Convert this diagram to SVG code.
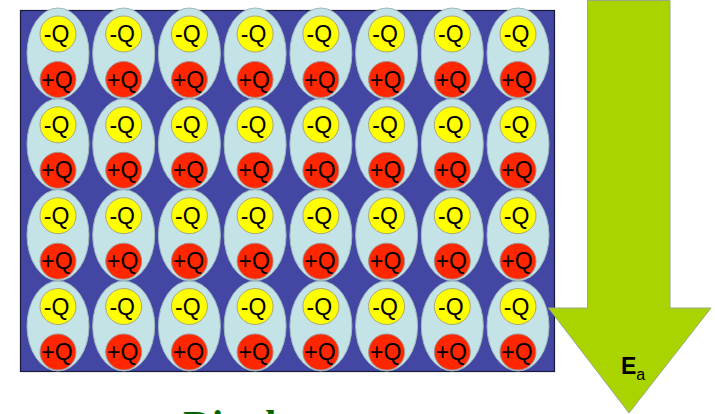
<svg xmlns="http://www.w3.org/2000/svg" width="715" height="414" viewBox="0 0 715 414">
<style>
.cell{fill:#C3E3E7;stroke:#9FB9BE;stroke-width:1}
.neg{fill:#FFFF00;stroke:#A8A878;stroke-width:1}
.pos{fill:#FF2600;stroke:#A89090;stroke-width:1}
.q{font-family:"Liberation Sans",Arial,sans-serif;font-size:23px;fill:#000;text-anchor:middle}
</style>
<rect x="20.5" y="10.5" width="534" height="361" fill="#4446A4" stroke="#1a1a3a" stroke-width="1.2"/>
<g id="dipoles">
<g id="d-1-1" transform="translate(58,53.5)"><ellipse class="cell" rx="31" ry="45.5"/><circle class="neg" cy="-19.5" r="18"/><circle class="pos" cy="26" r="18"/><text class="q" x="-1.5" y="-11.5">-Q</text><text class="q" x="-1" y="34">+Q</text></g>
<g id="d-1-2" transform="translate(123.7,53.5)"><ellipse class="cell" rx="31" ry="45.5"/><circle class="neg" cy="-19.5" r="18"/><circle class="pos" cy="26" r="18"/><text class="q" x="-1.5" y="-11.5">-Q</text><text class="q" x="-1" y="34">+Q</text></g>
<g id="d-1-3" transform="translate(189.4,53.5)"><ellipse class="cell" rx="31" ry="45.5"/><circle class="neg" cy="-19.5" r="18"/><circle class="pos" cy="26" r="18"/><text class="q" x="-1.5" y="-11.5">-Q</text><text class="q" x="-1" y="34">+Q</text></g>
<g id="d-1-4" transform="translate(255.1,53.5)"><ellipse class="cell" rx="31" ry="45.5"/><circle class="neg" cy="-19.5" r="18"/><circle class="pos" cy="26" r="18"/><text class="q" x="-1.5" y="-11.5">-Q</text><text class="q" x="-1" y="34">+Q</text></g>
<g id="d-1-5" transform="translate(320.9,53.5)"><ellipse class="cell" rx="31" ry="45.5"/><circle class="neg" cy="-19.5" r="18"/><circle class="pos" cy="26" r="18"/><text class="q" x="-1.5" y="-11.5">-Q</text><text class="q" x="-1" y="34">+Q</text></g>
<g id="d-1-6" transform="translate(386.6,53.5)"><ellipse class="cell" rx="31" ry="45.5"/><circle class="neg" cy="-19.5" r="18"/><circle class="pos" cy="26" r="18"/><text class="q" x="-1.5" y="-11.5">-Q</text><text class="q" x="-1" y="34">+Q</text></g>
<g id="d-1-7" transform="translate(452.3,53.5)"><ellipse class="cell" rx="31" ry="45.5"/><circle class="neg" cy="-19.5" r="18"/><circle class="pos" cy="26" r="18"/><text class="q" x="-1.5" y="-11.5">-Q</text><text class="q" x="-1" y="34">+Q</text></g>
<g id="d-1-8" transform="translate(518,53.5)"><ellipse class="cell" rx="31" ry="45.5"/><circle class="neg" cy="-19.5" r="18"/><circle class="pos" cy="26" r="18"/><text class="q" x="-1.5" y="-11.5">-Q</text><text class="q" x="-1" y="34">+Q</text></g>

<g id="d-2-1" transform="translate(58,144.3)"><ellipse class="cell" rx="31" ry="45.5"/><circle class="neg" cy="-19.5" r="18"/><circle class="pos" cy="26" r="18"/><text class="q" x="-1.5" y="-11.5">-Q</text><text class="q" x="-1" y="34">+Q</text></g>
<g id="d-2-2" transform="translate(123.7,144.3)"><ellipse class="cell" rx="31" ry="45.5"/><circle class="neg" cy="-19.5" r="18"/><circle class="pos" cy="26" r="18"/><text class="q" x="-1.5" y="-11.5">-Q</text><text class="q" x="-1" y="34">+Q</text></g>
<g id="d-2-3" transform="translate(189.4,144.3)"><ellipse class="cell" rx="31" ry="45.5"/><circle class="neg" cy="-19.5" r="18"/><circle class="pos" cy="26" r="18"/><text class="q" x="-1.5" y="-11.5">-Q</text><text class="q" x="-1" y="34">+Q</text></g>
<g id="d-2-4" transform="translate(255.1,144.3)"><ellipse class="cell" rx="31" ry="45.5"/><circle class="neg" cy="-19.5" r="18"/><circle class="pos" cy="26" r="18"/><text class="q" x="-1.5" y="-11.5">-Q</text><text class="q" x="-1" y="34">+Q</text></g>
<g id="d-2-5" transform="translate(320.9,144.3)"><ellipse class="cell" rx="31" ry="45.5"/><circle class="neg" cy="-19.5" r="18"/><circle class="pos" cy="26" r="18"/><text class="q" x="-1.5" y="-11.5">-Q</text><text class="q" x="-1" y="34">+Q</text></g>
<g id="d-2-6" transform="translate(386.6,144.3)"><ellipse class="cell" rx="31" ry="45.5"/><circle class="neg" cy="-19.5" r="18"/><circle class="pos" cy="26" r="18"/><text class="q" x="-1.5" y="-11.5">-Q</text><text class="q" x="-1" y="34">+Q</text></g>
<g id="d-2-7" transform="translate(452.3,144.3)"><ellipse class="cell" rx="31" ry="45.5"/><circle class="neg" cy="-19.5" r="18"/><circle class="pos" cy="26" r="18"/><text class="q" x="-1.5" y="-11.5">-Q</text><text class="q" x="-1" y="34">+Q</text></g>
<g id="d-2-8" transform="translate(518,144.3)"><ellipse class="cell" rx="31" ry="45.5"/><circle class="neg" cy="-19.5" r="18"/><circle class="pos" cy="26" r="18"/><text class="q" x="-1.5" y="-11.5">-Q</text><text class="q" x="-1" y="34">+Q</text></g>

<g id="d-3-1" transform="translate(58,235.2)"><ellipse class="cell" rx="31" ry="45.5"/><circle class="neg" cy="-19.5" r="18"/><circle class="pos" cy="26" r="18"/><text class="q" x="-1.5" y="-11.5">-Q</text><text class="q" x="-1" y="34">+Q</text></g>
<g id="d-3-2" transform="translate(123.7,235.2)"><ellipse class="cell" rx="31" ry="45.5"/><circle class="neg" cy="-19.5" r="18"/><circle class="pos" cy="26" r="18"/><text class="q" x="-1.5" y="-11.5">-Q</text><text class="q" x="-1" y="34">+Q</text></g>
<g id="d-3-3" transform="translate(189.4,235.2)"><ellipse class="cell" rx="31" ry="45.5"/><circle class="neg" cy="-19.5" r="18"/><circle class="pos" cy="26" r="18"/><text class="q" x="-1.5" y="-11.5">-Q</text><text class="q" x="-1" y="34">+Q</text></g>
<g id="d-3-4" transform="translate(255.1,235.2)"><ellipse class="cell" rx="31" ry="45.5"/><circle class="neg" cy="-19.5" r="18"/><circle class="pos" cy="26" r="18"/><text class="q" x="-1.5" y="-11.5">-Q</text><text class="q" x="-1" y="34">+Q</text></g>
<g id="d-3-5" transform="translate(320.9,235.2)"><ellipse class="cell" rx="31" ry="45.5"/><circle class="neg" cy="-19.5" r="18"/><circle class="pos" cy="26" r="18"/><text class="q" x="-1.5" y="-11.5">-Q</text><text class="q" x="-1" y="34">+Q</text></g>
<g id="d-3-6" transform="translate(386.6,235.2)"><ellipse class="cell" rx="31" ry="45.5"/><circle class="neg" cy="-19.5" r="18"/><circle class="pos" cy="26" r="18"/><text class="q" x="-1.5" y="-11.5">-Q</text><text class="q" x="-1" y="34">+Q</text></g>
<g id="d-3-7" transform="translate(452.3,235.2)"><ellipse class="cell" rx="31" ry="45.5"/><circle class="neg" cy="-19.5" r="18"/><circle class="pos" cy="26" r="18"/><text class="q" x="-1.5" y="-11.5">-Q</text><text class="q" x="-1" y="34">+Q</text></g>
<g id="d-3-8" transform="translate(518,235.2)"><ellipse class="cell" rx="31" ry="45.5"/><circle class="neg" cy="-19.5" r="18"/><circle class="pos" cy="26" r="18"/><text class="q" x="-1.5" y="-11.5">-Q</text><text class="q" x="-1" y="34">+Q</text></g>

<g id="d-4-1" transform="translate(58,326)"><ellipse class="cell" rx="31" ry="45"/><circle class="neg" cy="-19.5" r="18"/><circle class="pos" cy="26" r="18"/><text class="q" x="-1.5" y="-11.5">-Q</text><text class="q" x="-1" y="34">+Q</text></g>
<g id="d-4-2" transform="translate(123.7,326)"><ellipse class="cell" rx="31" ry="45"/><circle class="neg" cy="-19.5" r="18"/><circle class="pos" cy="26" r="18"/><text class="q" x="-1.5" y="-11.5">-Q</text><text class="q" x="-1" y="34">+Q</text></g>
<g id="d-4-3" transform="translate(189.4,326)"><ellipse class="cell" rx="31" ry="45"/><circle class="neg" cy="-19.5" r="18"/><circle class="pos" cy="26" r="18"/><text class="q" x="-1.5" y="-11.5">-Q</text><text class="q" x="-1" y="34">+Q</text></g>
<g id="d-4-4" transform="translate(255.1,326)"><ellipse class="cell" rx="31" ry="45"/><circle class="neg" cy="-19.5" r="18"/><circle class="pos" cy="26" r="18"/><text class="q" x="-1.5" y="-11.5">-Q</text><text class="q" x="-1" y="34">+Q</text></g>
<g id="d-4-5" transform="translate(320.9,326)"><ellipse class="cell" rx="31" ry="45"/><circle class="neg" cy="-19.5" r="18"/><circle class="pos" cy="26" r="18"/><text class="q" x="-1.5" y="-11.5">-Q</text><text class="q" x="-1" y="34">+Q</text></g>
<g id="d-4-6" transform="translate(386.6,326)"><ellipse class="cell" rx="31" ry="45"/><circle class="neg" cy="-19.5" r="18"/><circle class="pos" cy="26" r="18"/><text class="q" x="-1.5" y="-11.5">-Q</text><text class="q" x="-1" y="34">+Q</text></g>
<g id="d-4-7" transform="translate(452.3,326)"><ellipse class="cell" rx="31" ry="45"/><circle class="neg" cy="-19.5" r="18"/><circle class="pos" cy="26" r="18"/><text class="q" x="-1.5" y="-11.5">-Q</text><text class="q" x="-1" y="34">+Q</text></g>
<g id="d-4-8" transform="translate(518,326)"><ellipse class="cell" rx="31" ry="45"/><circle class="neg" cy="-19.5" r="18"/><circle class="pos" cy="26" r="18"/><text class="q" x="-1.5" y="-11.5">-Q</text><text class="q" x="-1" y="34">+Q</text></g>
</g>
<g id="field-arrow">
<polygon points="587.5,0.5 670,0.5 670,308 711,308 629,413 548.5,308 587.5,308" fill="#AAD400" stroke="#9AA88A" stroke-width="1"/>
<text x="621" y="373.5" font-family="'Liberation Sans',Arial,sans-serif" font-size="23" font-weight="bold" fill="#000">E<tspan font-size="16" font-weight="normal" dy="6.5">a</tspan></text>
</g>
<text id="caption" x="183" y="438" font-family="'Liberation Serif','Times New Roman',serif" font-size="40" font-weight="bold" fill="#006600">Dipoles</text>
</svg>
